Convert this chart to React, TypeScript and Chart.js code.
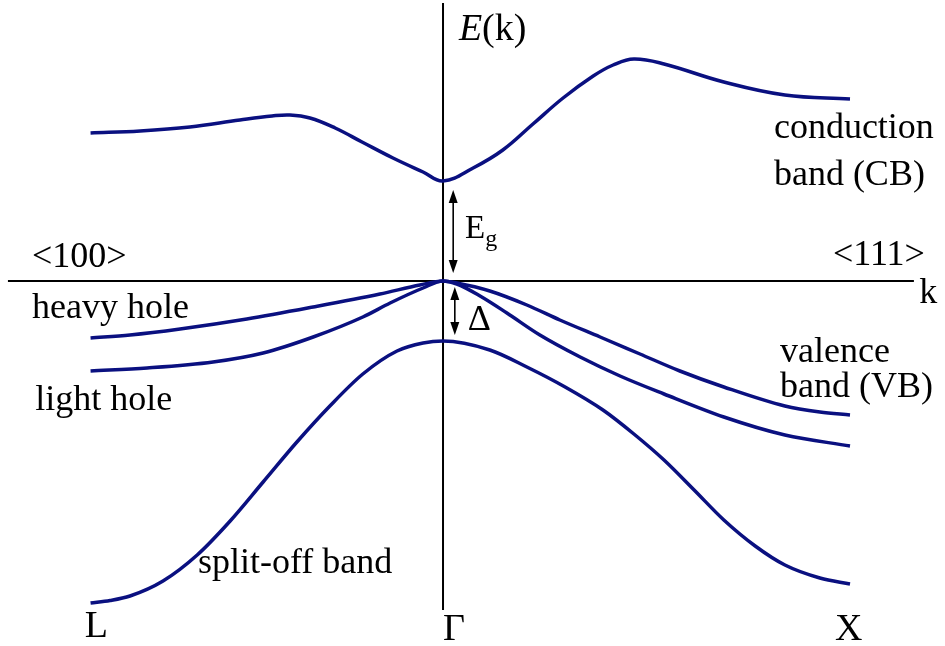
import { useEffect, useRef } from "react";
import { Chart, registerables } from "chart.js";

Chart.register(...registerables);

// Wave vector k in units of 2π/a: L on the left, Γ at the origin, X on the right.
// Energies in eV, measured from the valence-band top at Γ.
const K_MIN = -1.0885;
const K_MAX = 1.2334;
const E_MIN = -3.65;
const E_MAX = 2.81;

const EG = 1.0; // band gap at Γ
const DELTA = 0.6; // spin-orbit split-off energy

const cbK = [-0.866, -0.744, -0.622, -0.499, -0.42, -0.376, -0.327, -0.265, -0.199, -0.123, -0.049, 0, 0.074, 0.147, 0.221, 0.295, 0.369, 0.418, 0.469, 0.543, 0.69, 0.84, 1.0];
const cbE = [1.48, 1.5, 1.54, 1.61, 1.65, 1.66, 1.63, 1.53, 1.39, 1.23, 1.09, 1.0, 1.13, 1.31, 1.57, 1.83, 2.05, 2.16, 2.22, 2.17, 1.99, 1.86, 1.82];

const hhK = [-0.866, -0.769, -0.646, -0.482, -0.319, -0.155, -0.057, 0, 0.034, 0.115, 0.206, 0.287, 0.386, 0.484, 0.582, 0.69, 0.84, 0.926, 1.0];
const hhE = [-0.57, -0.54, -0.48, -0.38, -0.26, -0.13, -0.04, 0, -0.02, -0.1, -0.24, -0.39, -0.56, -0.73, -0.9, -1.06, -1.25, -1.31, -1.34];

const lhK = [-0.866, -0.727, -0.565, -0.442, -0.319, -0.197, -0.13, -0.049, 0, 0.034, 0.091, 0.157, 0.238, 0.337, 0.435, 0.543, 0.69, 0.84, 1.0];
const lhE = [-0.9, -0.87, -0.81, -0.72, -0.56, -0.36, -0.22, -0.07, 0, -0.03, -0.15, -0.32, -0.54, -0.76, -0.95, -1.13, -1.36, -1.54, -1.65];

const soK = [-0.866, -0.818, -0.769, -0.688, -0.604, -0.523, -0.442, -0.359, -0.278, -0.197, -0.113, -0.049, 0, 0.115, 0.206, 0.3, 0.393, 0.469, 0.543, 0.617, 0.69, 0.767, 0.84, 0.926, 1.0];
const soE = [-3.22, -3.195, -3.15, -3.0, -2.74, -2.4, -2.01, -1.61, -1.25, -0.93, -0.7, -0.62, -0.6, -0.69, -0.86, -1.06, -1.29, -1.53, -1.79, -2.09, -2.39, -2.65, -2.84, -2.97, -3.03];

const BAND_COLOR = "#0a1080";
const SERIF = '"Liberation Serif", "Times New Roman", serif';

type Label = { text: string; k: number; e: number; size: number };

const labels: Label[] = [
  { text: "conduction", k: 0.813, e: 1.43, size: 36 },
  { text: "band (CB)", k: 0.813, e: 0.96, size: 36 },
  { text: "<100>", k: -1.01, e: 0.14, size: 36 },
  { text: "<111>", k: 0.958, e: 0.16, size: 36 },
  { text: "k", k: 1.17, e: -0.22, size: 36 },
  { text: "heavy hole", k: -1.01, e: -0.37, size: 36 },
  { text: "light hole", k: -1.002, e: -1.29, size: 36 },
  { text: "valence", k: 0.828, e: -0.81, size: 36 },
  { text: "band (VB)", k: 0.828, e: -1.16, size: 36 },
  { text: "split-off band", k: -0.602, e: -2.92, size: 36 },
  { text: "L", k: -0.88, e: -3.56, size: 38 },
  { text: "Γ", k: 0, e: -3.59, size: 38 },
  { text: "X", k: 0.963, e: -3.59, size: 38 },
  { text: "Δ", k: 0.061, e: -0.49, size: 36 },
];

const toPoints = (ks: number[], es: number[]) => ks.map((k, i) => ({ x: k, y: es[i] }));

function drawArrow(ctx: CanvasRenderingContext2D, x: number, y1: number, y2: number) {
  const head = 13;
  const half = 4.5;
  ctx.beginPath();
  ctx.moveTo(x, y1 + head - 2);
  ctx.lineTo(x, y2 - head + 2);
  ctx.stroke();
  ctx.beginPath();
  ctx.moveTo(x, y1);
  ctx.lineTo(x - half, y1 + head);
  ctx.lineTo(x + half, y1 + head);
  ctx.closePath();
  ctx.fill();
  ctx.beginPath();
  ctx.moveTo(x, y2);
  ctx.lineTo(x - half, y2 - head);
  ctx.lineTo(x + half, y2 - head);
  ctx.closePath();
  ctx.fill();
}

const bandOverlay = {
  id: "bandOverlay",
  beforeDatasetsDraw(chart: Chart) {
    const { ctx } = chart;
    const xs = chart.scales.x;
    const ys = chart.scales.y;
    ctx.save();
    ctx.strokeStyle = "#000";
    ctx.lineWidth = 2;
    ctx.beginPath();
    ctx.moveTo(xs.getPixelForValue(-1.069), ys.getPixelForValue(0));
    ctx.lineTo(xs.getPixelForValue(1.157), ys.getPixelForValue(0));
    ctx.stroke();
    ctx.beginPath();
    ctx.moveTo(xs.getPixelForValue(0), ys.getPixelForValue(2.78));
    ctx.lineTo(xs.getPixelForValue(0), ys.getPixelForValue(-3.29));
    ctx.stroke();
    ctx.restore();
  },
  afterDatasetsDraw(chart: Chart) {
    const { ctx } = chart;
    const xs = chart.scales.x;
    const ys = chart.scales.y;
    ctx.save();
    ctx.fillStyle = "#000";
    ctx.strokeStyle = "#000";
    ctx.textBaseline = "alphabetic";
    ctx.textAlign = "left";

    for (const l of labels) {
      ctx.font = `${l.size}px ${SERIF}`;
      ctx.fillText(l.text, xs.getPixelForValue(l.k), ys.getPixelForValue(l.e));
    }

    // E(k) axis title: italic E, upright (k)
    const tx = xs.getPixelForValue(0.039);
    const ty = ys.getPixelForValue(2.41);
    ctx.font = `italic 38px ${SERIF}`;
    ctx.fillText("E", tx, ty);
    const w = ctx.measureText("E").width;
    ctx.font = `38px ${SERIF}`;
    ctx.fillText("(k)", tx + w, ty);

    // E_g label
    const gx = xs.getPixelForValue(0.054);
    const gy = ys.getPixelForValue(0.43);
    ctx.font = `33px ${SERIF}`;
    ctx.fillText("E", gx, gy);
    const ew = ctx.measureText("E").width;
    ctx.font = `24px ${SERIF}`;
    ctx.fillText("g", gx + ew, gy + 8);

    // double arrows for the gap and the split-off energy
    ctx.lineWidth = 1.6;
    drawArrow(ctx, xs.getPixelForValue(0.025), ys.getPixelForValue(EG - 0.09), ys.getPixelForValue(0.08));
    drawArrow(ctx, xs.getPixelForValue(0.029), ys.getPixelForValue(-0.06), ys.getPixelForValue(-DELTA + 0.06));
    ctx.restore();
  },
};

export default function App() {
  const canvasRef = useRef<HTMLCanvasElement | null>(null);

  useEffect(() => {
    const canvas = canvasRef.current;
    if (!canvas) return;
    const band = (label: string, ks: number[], es: number[], smooth: "monotone" | "default") => ({
      label,
      data: toPoints(ks, es),
      borderColor: BAND_COLOR,
      borderWidth: 3.5,
      pointRadius: 0,
      fill: false,
      tension: 0.4,
      cubicInterpolationMode: smooth,
    });
    const chart = new Chart(canvas, {
      type: "line",
      data: {
        datasets: [
          band("conduction band", cbK, cbE, "default"),
          band("heavy hole", hhK, hhE, "monotone"),
          band("light hole", lhK, lhE, "monotone"),
          band("split-off band", soK, soE, "monotone"),
        ],
      },
      options: {
        animation: false,
        responsive: true,
        maintainAspectRatio: false,
        layout: { padding: 0 },
        plugins: { legend: { display: false }, tooltip: { enabled: false } },
        scales: {
          x: { type: "linear", min: K_MIN, max: K_MAX, display: false },
          y: { type: "linear", min: E_MIN, max: E_MAX, display: false },
        },
      },
      plugins: [bandOverlay],
    });
    return () => chart.destroy();
  }, []);

  return (
    <div style={{ position: "absolute", left: 0, top: 0, width: 945, height: 646, background: "#fff" }}>
      <canvas ref={canvasRef} />
    </div>
  );
}
